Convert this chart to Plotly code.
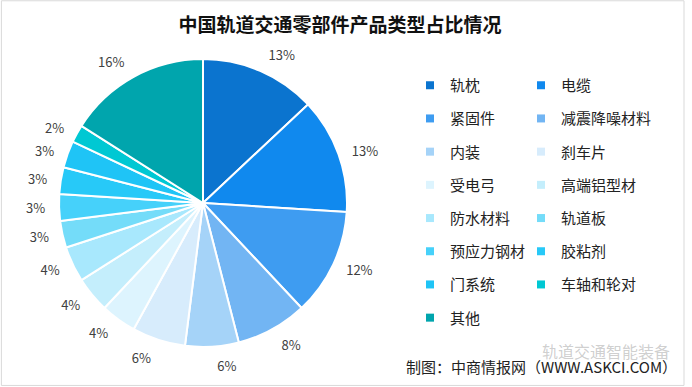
import plotly.graph_objects as go

labels = ["轨枕", "电缆", "紧固件", "减震降噪材料", "内装", "刹车片", "受电弓", "高端铝型材",
          "防水材料", "轨道板", "预应力钢材", "胶粘剂", "门系统", "车轴和轮对", "其他"]
values = [13, 13, 12, 8, 6, 6, 4, 4, 4, 3, 3, 3, 3, 2, 16]
colors = ["#0B74CF", "#1089EE", "#3E9CF1", "#72B5F3", "#A5D3F8", "#D7ECFC", "#DDF4FE", "#C4EEFC",
          "#A8E8FD", "#74DCF9", "#46D1FA", "#27C9F8", "#1FC4F6", "#00C8D3", "#00A5AD"]

title_text = "中国轨道交通零部件产品类型占比情况"
source_text = "制图：中商情报网（WWW.ASKCI.COM）"
watermark_text = "轨道交通智能装备"

FONT = "Noto Sans CJK SC"
W, H = 692, 387
CX, CY, R, RL = 203, 203, 144, 153


def dom(r):
    return dict(x=[(CX - r) / W, (CX + r) / W], y=[(H - CY - r) / H, (H - CY + r) / H])


fig = go.Figure()
# label carrier: same data, slightly larger radius, transparent wedges
fig.add_trace(go.Pie(
    labels=labels, values=values, sort=False, direction="clockwise", rotation=0,
    marker=dict(colors=["rgba(0,0,0,0)"] * len(values), line=dict(width=0)),
    texttemplate="%{value}%", textposition="outside",
    textfont=dict(family=FONT, size=13, color="#404040"),
    showlegend=False, hoverinfo="skip", domain=dom(RL),
))
fig.add_trace(go.Pie(
    labels=labels, values=values, sort=False, direction="clockwise", rotation=0,
    marker=dict(colors=colors, line=dict(color="white", width=2)),
    textinfo="none", showlegend=False, hoverinfo="label+value", domain=dom(R),
))

for i, (lab, col) in enumerate(zip(labels, colors)):
    fig.add_trace(go.Scatter(
        x=[None], y=[None], mode="markers", name=lab,
        marker=dict(symbol="square", size=8, color=col),
        legend="legend" if i % 2 == 0 else "legend2", legendgroup=lab, showlegend=True,
    ))

leg_common = dict(font=dict(family=FONT, size=15, color="#222"), traceorder="grouped",
                  tracegroupgap=10.7, bgcolor="rgba(0,0,0,0)", yanchor="top", xanchor="left",
                  itemclick=False, itemdoubleclick=False)
fig.update_layout(
    width=W, height=H,
    margin=dict(l=0, r=0, t=0, b=0),
    paper_bgcolor="white", plot_bgcolor="white",
    xaxis=dict(visible=False), yaxis=dict(visible=False),
    legend=dict(x=410 / W, y=1 - 69 / H, **leg_common),
    legend2=dict(x=521 / W, y=1 - 69 / H, **leg_common),
    title=dict(text="<b>" + title_text + "</b>", x=340 / W, xanchor="center", y=1 - 25 / H, yanchor="middle",
               font=dict(family=FONT, size=19, color="#111")),
    annotations=[
        dict(text=watermark_text, x=540 / W, y=1 - 351 / H, xref="paper", yref="paper", xanchor="left",
             yanchor="middle", showarrow=False, font=dict(family=FONT, size=16, color="rgba(130,130,130,0.4)")),
        dict(text=source_text, x=404 / W, y=1 - 366 / H, xref="paper", yref="paper", xanchor="left",
             yanchor="middle", showarrow=False, font=dict(family=FONT, size=15, color="#222")),
    ],
    shapes=[dict(type="rect", xref="paper", yref="paper", x0=0.002, x1=684 / W, y0=0.004, y1=0.998,
                 line=dict(color="#D9D9D9", width=1))],
)

fig.write_html("out.html", config={"displayModeBar": False},
               post_script="document.body.style.margin='0';document.body.style.overflow='hidden';")
